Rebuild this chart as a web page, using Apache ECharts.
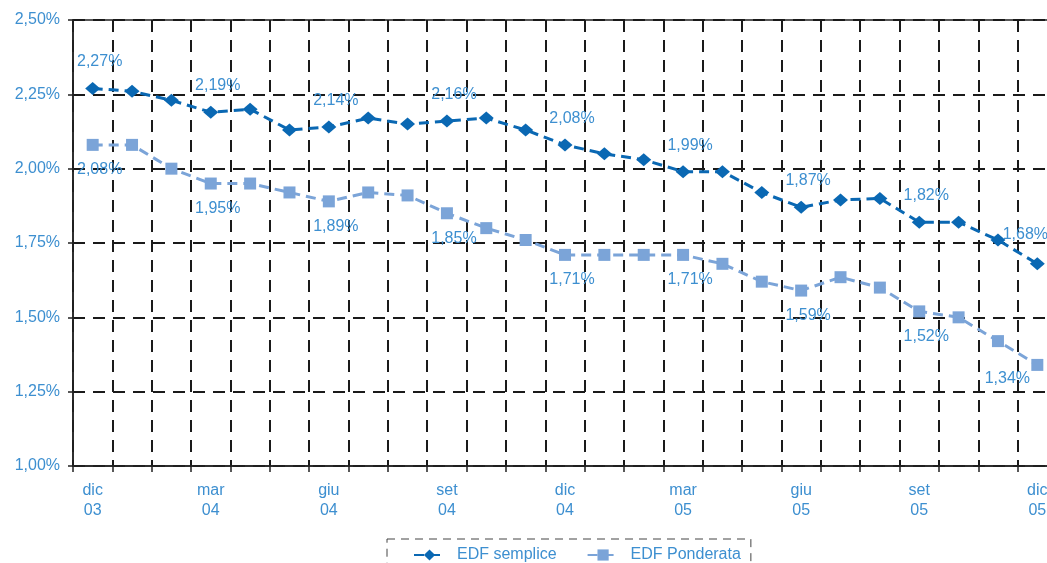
<!DOCTYPE html>
<html>
<head>
<meta charset="utf-8">
<script src="https://cdn.jsdelivr.net/npm/echarts@6/dist/echarts.min.js"></script>
<style>
  html, body { margin: 0; padding: 0; background: #fff; }
  #chart { width: 1047px; height: 563px; }
</style>
</head>
<body>
<div id="chart"></div>
<script>
// mesi dic 03 -> dic 05
var months = ["dic\n03", "gen\n04", "feb\n04", "mar\n04", "apr\n04", "mag\n04", "giu\n04", "lug\n04", "ago\n04",
  "set\n04", "ott\n04", "nov\n04", "dic\n04", "gen\n05", "feb\n05", "mar\n05", "apr\n05", "mag\n05",
  "giu\n05", "lug\n05", "ago\n05", "set\n05", "ott\n05", "nov\n05", "dic\n05"];
var edfSemplice = [2.27, 2.26, 2.23, 2.19, 2.20, 2.13, 2.14, 2.17, 2.15, 2.16, 2.17, 2.13, 2.08,
  2.05, 2.03, 1.99, 1.99, 1.92, 1.87, 1.895, 1.90, 1.82, 1.82, 1.76, 1.68];
var edfPonderata = [2.08, 2.08, 2.00, 1.95, 1.95, 1.92, 1.89, 1.92, 1.91, 1.85, 1.80, 1.76, 1.71,
  1.71, 1.71, 1.71, 1.68, 1.62, 1.59, 1.635, 1.60, 1.52, 1.50, 1.42, 1.34];
var yTicks = { min: 1.0, max: 2.5, step: 0.25 };

var textColor = "#3d8fd0";
var font = "Liberation Sans";
var lastIdx = months.length - 1;

function pct(v) {
  return v.toFixed(2).replace(".", ",") + "%";
}

var chart = echarts.init(document.getElementById("chart"));

chart.setOption({
  animation: false,
  textStyle: { fontFamily: font },
  grid: {
    left: 73,
    top: 20,
    width: 984,
    bottom: 97,
    outerBoundsMode: "none",
    show: true,
    borderColor: "#222",
    borderWidth: 1.5
  },
  legend: {
    bottom: -20,
    left: 387,
    padding: [8, 10, 20, 26],
    itemWidth: 31,
    itemHeight: 14,
    itemGap: 30,
    borderColor: "#444",
    borderWidth: 1,
    borderType: [8, 6],
    textStyle: { color: textColor, fontSize: 16, fontFamily: font, padding: [0, 0, 0, 7] },
    data: ["EDF semplice", "EDF Ponderata"]
  },
  xAxis: {
    type: "category",
    data: months,
    boundaryGap: true,
    axisLine: { lineStyle: { color: "#222", width: 1.5 } },
    axisTick: { show: true, interval: 0, length: 6, lineStyle: { color: "#222", width: 1.5 } },
    axisLabel: {
      interval: 2,
      color: textColor,
      fontSize: 16,
      lineHeight: 20,
      margin: 15
    },
    splitLine: {
      show: true,
      interval: 0,
      lineStyle: { color: "#1a1a1a", width: 2, type: [12, 8] }
    }
  },
  yAxis: {
    type: "value",
    min: yTicks.min,
    max: yTicks.max,
    interval: yTicks.step,
    axisLine: { show: true, lineStyle: { color: "#222", width: 1.5 } },
    axisTick: { show: true, length: 5, lineStyle: { color: "#222", width: 1.5 } },
    axisLabel: {
      color: textColor,
      fontSize: 16,
      margin: 13,
      formatter: pct
    },
    splitLine: {
      show: true,
      lineStyle: { color: "#1a1a1a", width: 2, type: [12, 8] }
    }
  },
  series: [
    {
      name: "EDF semplice",
      type: "line",
      data: edfSemplice,
      symbol: "diamond",
      symbolSize: [15, 13],
      itemStyle: { color: "#0a68b3" },
      lineStyle: { color: "#0a68b3", width: 3, type: [10, 6] },
      label: {
        show: true,
        position: "top",
        distance: 12,
        color: textColor,
        fontSize: 16,
        formatter: function (p) {
          return p.dataIndex % 3 === 0 ? pct(p.value) : "";
        }
      },
      labelLayout: function (p) {
        if (p.dataIndex === lastIdx) return { dx: -12, dy: -3 };
        return { dx: 7 };
      },
      z: 3
    },
    {
      name: "EDF Ponderata",
      type: "line",
      data: edfPonderata,
      symbol: "rect",
      symbolSize: 12,
      itemStyle: { color: "#7ba4d8" },
      lineStyle: { color: "#7ba4d8", width: 3, type: [10, 6] },
      label: {
        show: true,
        position: "bottom",
        distance: 11,
        color: textColor,
        fontSize: 16,
        formatter: function (p) {
          return p.dataIndex % 3 === 0 ? pct(p.value) : "";
        }
      },
      labelLayout: function (p) {
        if (p.dataIndex === lastIdx) return { dx: -30, dy: -11 };
        return { dx: 7 };
      },
      z: 2
    }
  ]
});
</script>
</body>
</html>
